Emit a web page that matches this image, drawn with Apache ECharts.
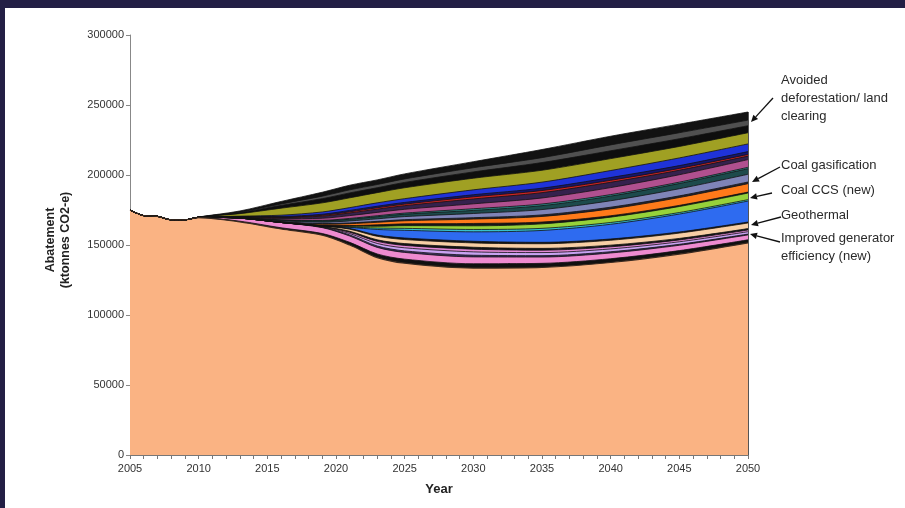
<!DOCTYPE html>
<html>
<head>
<meta charset="utf-8">
<script src="https://cdn.jsdelivr.net/npm/echarts@6/dist/echarts.min.js"></script>
<style>
html,body{margin:0;padding:0;background:#fff;}
#c{width:905px;height:508px;}
</style>
</head>
<body>
<div id="c"></div>
<script>
const years = [2005,2006,2007,2008,2009,2010,2013,2016,2019,2021,2023,2025,2030,2035,2040,2045,2050];
const yTicks = [0,50000,100000,150000,200000,250000,300000];

const base      = [175000,171000,170500,168000,168000,169500,166500,161500,157000,150000,141000,137000,133500,134000,137500,143500,151500];
const black1    = [0,0,0,0,0,100,500,800,1200,1900,2600,2900,3100,2900,2700,2500,2200];
const pink1     = [0,0,0,0,0,200,2200,3800,4200,4500,4700,4800,4900,4500,4100,3800,3500];
const dark1     = [0,0,0,0,0,0,0,0,300,800,1000,1100,1200,1000,900,700,600];
const lavender  = [0,0,0,0,0,0,0,0,200,1000,1800,2200,2400,2200,2000,1800,1700];
const pink2     = [0,0,0,0,0,0,0,0,200,900,1500,1700,1900,1700,1500,1300,1200];
const black2    = [0,0,0,0,0,0,0,0,200,700,1100,1300,1400,1300,1200,1100,1000];
const geothermal= [0,0,0,0,0,0,0,0,300,1500,2500,2900,3100,3300,3500,3800,4000];
const black3    = [0,0,0,0,0,0,0,0,100,500,900,1100,1200,1000,900,800,700];
const blueBig   = [0,0,0,0,0,0,0,0,0,800,4000,5500,6700,8500,10500,12800,15000];
const cyan      = [0,0,0,0,0,0,0,0,0,300,1000,1400,1700,1500,1300,1100,1000];
const green     = [0,0,0,0,0,0,0,0,100,500,1300,1900,2600,3200,3800,4300,4700];
const black4    = [0,0,0,0,0,0,0,0,100,500,1000,1300,1700,1300,1000,800,700];
const orange    = [0,0,0,0,0,0,100,400,900,1300,1800,2200,3100,4000,4900,5600,6000];
const dark2     = [0,0,0,0,0,0,100,300,500,600,700,800,1000,1100,1200,1200,1200];
const grayBlue  = [0,0,0,0,0,0,100,500,1000,1400,1800,2200,3000,3800,4600,5100,5500];
const darkTeal  = [0,0,0,0,0,0,100,500,900,1200,1500,1700,2200,2800,3300,3700,4000];
const teal      = [0,0,0,0,0,0,0,200,400,600,700,800,1200,1200,1100,1000,1000];
const mauve     = [0,0,0,0,0,0,200,800,1500,2000,2400,2700,3500,4300,5000,5300,5500];
const darkPurple= [0,0,0,0,0,0,200,800,1500,1900,2300,2600,3500,3800,3800,3200,2500];
const red       = [0,0,0,0,0,0,100,300,600,800,1000,1100,1500,1500,1400,1300,1200];
const navy      = [0,0,0,0,0,0,200,500,800,1000,1100,1200,1500,1700,2000,2000,2000];
const blue2     = [0,0,0,0,0,0,300,900,1600,2000,2400,2700,3500,4300,5000,5500,5500];
const olive     = [0,0,0,0,0,100,1800,5000,6500,7000,7300,7800,8300,8500,8500,8200,8000];
const black5    = [0,0,0,0,0,50,800,2000,3000,3500,3500,3800,4500,5500,5600,5500,5000];
const gray      = [0,0,0,0,0,0,400,1000,1800,2200,2300,2500,3000,3500,4200,4300,4000];
const blackTop  = [0,0,0,0,0,50,700,1800,2800,3300,3300,3600,4300,5800,6200,6100,5800];

const layers = [
  ['Base', base, '#FAB383'],
  ['L1', black1, '#101010'],
  ['L2', pink1, '#EE8BD0'],
  ['L3', dark1, '#3A3060'],
  ['L4', lavender, '#C9A2F2'],
  ['L5', pink2, '#E58AD8'],
  ['L6', black2, '#151515'],
  ['Geothermal', geothermal, '#F8CFA5'],
  ['L8', black3, '#141414'],
  ['L9', blueBig, '#2E6BF0'],
  ['L10', cyan, '#36C0CC'],
  ['Coal CCS (new)', green, '#96D23A'],
  ['L12', black4, '#161616'],
  ['Coal gasification', orange, '#FF7A1A'],
  ['L14', dark2, '#262633'],
  ['L15', grayBlue, '#7F84B8'],
  ['L16', darkTeal, '#1D4A4C'],
  ['L17', teal, '#2E8A8A'],
  ['L18', mauve, '#B0508F'],
  ['L19', darkPurple, '#35214D'],
  ['L20', red, '#CF2424'],
  ['L21', navy, '#16166C'],
  ['L22', blue2, '#1F33D9'],
  ['L23', olive, '#A0A023'],
  ['L24', black5, '#0E0E0E'],
  ['L25', gray, '#505050'],
  ['Avoided deforestation', blackTop, '#121212']
];

// cumulative totals (stack), drawn top-down so each lower band overlays the one above
const running = years.map(() => 0);
const cumul = layers.map(l => {
  l[1].forEach((v, j) => { running[j] += v; });
  return running.slice();
});
const lastIdx = years.length - 1;
const topTotal = running[lastIdx];

const series = [];
for (let i = layers.length - 1; i >= 0; i--) {
  const s = {
    name: layers[i][0],
    type: 'line',
    smooth: 0.3,
    symbol: 'none',
    silent: true,
    data: years.map((y, j) => [y, cumul[i][j]]),
    lineStyle: { width: 0.8, color: '#111' },
    areaStyle: { color: layers[i][2], opacity: 1 },
    itemStyle: { color: layers[i][2] }
  };
  if (i === 0) {
    s.lineStyle = { width: 1.2, color: '#3a2a20' };
    s.markLine = {
      silent: true, symbol: 'none', label: { show: false },
      lineStyle: { color: '#555', width: 1, type: 'solid' },
      data: [[{ coord: [years[lastIdx], 0] }, { coord: [years[lastIdx], topTotal] }]]
    };
  }
  series.push(s);
}

const tickFont = 'Liberation Sans Narrow, Arial Narrow, Liberation Sans, Arial, sans-serif';
const annFont = 'Liberation Sans, Arial, sans-serif';

function arrow(x1, y1, x2, y2) {
  const ang = Math.atan2(y2 - y1, x2 - x1);
  const L = 7, W = 3.2;
  const bx = x2 - L * Math.cos(ang), by = y2 - L * Math.sin(ang);
  const px = -Math.sin(ang) * W, py = Math.cos(ang) * W;
  return [
    { type: 'line', shape: { x1: x1, y1: y1, x2: bx, y2: by }, style: { stroke: '#111', lineWidth: 1.3 } },
    { type: 'polygon', shape: { points: [[x2, y2], [bx + px, by + py], [bx - px, by - py]] }, style: { fill: '#111' } }
  ];
}

function txt(x, y, s) {
  return { type: 'text', x: x, y: y, style: { text: s, font: '13px ' + annFont, fill: '#2a2a2a', textVerticalAlign: 'middle' } };
}

const chart = echarts.init(document.getElementById('c'), null, { renderer: 'canvas' });
chart.setOption({
  backgroundColor: '#ffffff',
  animation: false,
  grid: { left: 130, right: 157, top: 35, bottom: 53 },
  xAxis: {
    type: 'value', min: 2005, max: 2050, interval: 5,
    name: 'Year', nameLocation: 'middle', nameGap: 28,
    nameTextStyle: { fontFamily: annFont, fontWeight: 'bold', fontSize: 13, color: '#222' },
    axisLine: { lineStyle: { color: '#777', width: 1 } },
    axisTick: { show: true, length: 4, lineStyle: { color: '#777' } },
    minorTick: { show: true, splitNumber: 5, length: 4, lineStyle: { color: '#777' } },
    splitLine: { show: false },
    axisLabel: { fontFamily: tickFont, fontSize: 11, color: '#333', margin: 8, formatter: v => String(v) }
  },
  yAxis: {
    type: 'value', min: yTicks[0], max: yTicks[yTicks.length - 1], interval: yTicks[1] - yTicks[0],
    axisLine: { show: true, lineStyle: { color: '#888', width: 1 } },
    axisTick: { show: true, length: 4, lineStyle: { color: '#888' } },
    splitLine: { show: false },
    axisLabel: { fontFamily: tickFont, fontSize: 11, color: '#333', margin: 6, formatter: v => String(v) }
  },
  series: series,
  graphic: [
    { type: 'rect', shape: { x: 0, y: 0, width: 905, height: 8 }, style: { fill: '#231F45' }, z: 100 },
    { type: 'rect', shape: { x: 0, y: 0, width: 5, height: 508 }, style: { fill: '#231F45' }, z: 100 },
    {
      type: 'text', x: 58, y: 240, rotation: Math.PI / 2,
      style: { text: 'Abatement\n(ktonnes CO2-e)', font: 'bold 12.5px ' + annFont, fill: '#222', textAlign: 'center', textVerticalAlign: 'middle', lineHeight: 15 }
    },
    txt(781, 80, 'Avoided'),
    txt(781, 98, 'deforestation/ land'),
    txt(781, 116, 'clearing'),
    txt(781, 165, 'Coal gasification'),
    txt(781, 190, 'Coal CCS (new)'),
    txt(781, 215, 'Geothermal'),
    txt(781, 238, 'Improved generator'),
    txt(781, 256, 'efficiency (new)'),
    ...arrow(773, 98, 751, 122),
    ...arrow(780, 167, 752, 182),
    ...arrow(772, 193, 750, 198),
    ...arrow(781, 217, 751, 225),
    ...arrow(780, 242, 750, 234)
  ]
});
</script>
</body>
</html>
